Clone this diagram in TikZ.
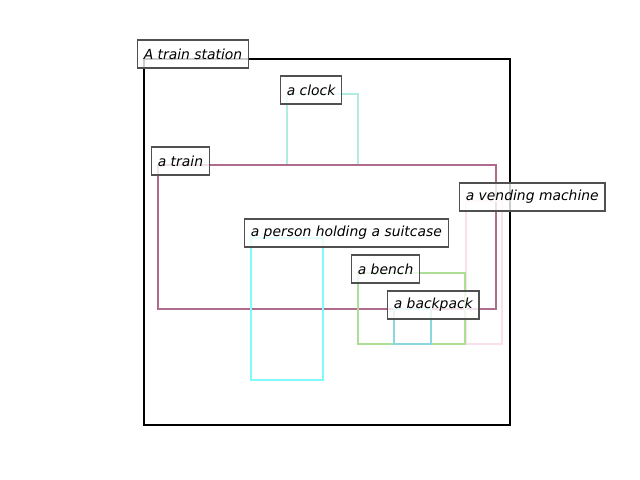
\documentclass[tikz,border=0pt]{standalone}
\usepackage{fontspec}
\setmainfont{DejaVu Sans}
\definecolor{cstation}{RGB}{0,0,0}
\definecolor{cclock}{RGB}{178,236,224}
\definecolor{ctrain}{RGB}{176,106,140}
\definecolor{cvend}{RGB}{250,224,234}
\definecolor{cperson}{RGB}{128,250,250}
\definecolor{cbench}{RGB}{172,222,150}
\definecolor{cbackpack}{RGB}{140,214,224}
\definecolor{cedge}{RGB}{80,80,80}
\begin{document}
\begin{tikzpicture}[x=0.72pt,y=-0.72pt,
  objbox/.style={line width=1.8pt},
  lbl/.style={draw=cedge,line width=0.8pt,fill=white,fill opacity=0.8,text opacity=1,
    anchor=west,minimum height=20.2pt,inner xsep=4.5pt,inner ysep=0pt,
    font=\itshape\fontsize{10}{12}\selectfont}]
\useasboundingbox (0,0) rectangle (640,480);
\draw[objbox,cstation] (144,59) rectangle (510,425);
\draw[objbox,cclock] (287,94) rectangle (358,165);
\draw[objbox,ctrain] (158,165) rectangle (496,309);
\draw[objbox,cvend] (466,201) rectangle (502,344);
\draw[objbox,cperson] (251,238) rectangle (323,380);
\draw[objbox,cbench] (358,273) rectangle (465,344);
\draw[objbox,cbackpack] (394,309) rectangle (431,344);
\node[lbl] (lstation) at (137,54) {A train station};
\node[lbl] (lclock) at (280,90) {a clock};
\node[lbl] (ltrain) at (151,161) {a train};
\node[lbl] (lvend) at (459,197) {a vending machine};
\node[lbl] (lperson) at (244,233) {a person holding a suitcase};
\node[lbl] (lbench) at (351,269) {a bench};
\node[lbl] (lbackpack) at (387,305) {a backpack};
\end{tikzpicture}
\end{document}
